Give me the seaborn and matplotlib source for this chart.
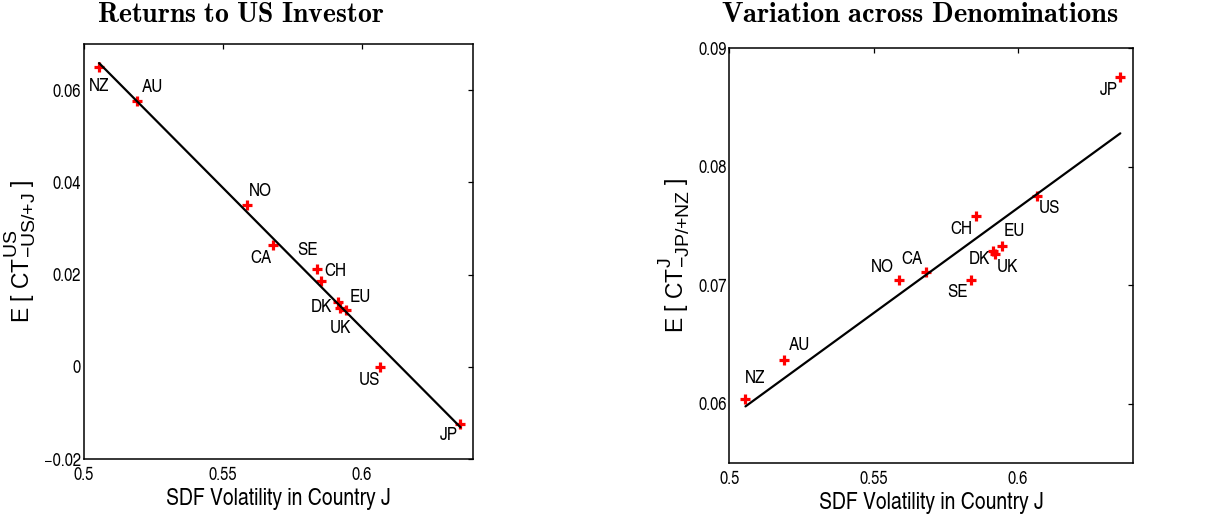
import matplotlib
matplotlib.use("Agg")
import matplotlib.pyplot as plt
import seaborn as sns
import numpy as np
import pandas as pd

try:
    import matplotlib._mathtext as _mt
    if hasattr(_mt, 'SHRINK_FACTOR'):
        _mt.SHRINK_FACTOR = 0.85  # larger super/subscripts, as in the reference
except Exception:
    pass

# ---------------- data ----------------
countries = ['NZ', 'AU', 'NO', 'CA', 'SE', 'CH', 'DK', 'UK', 'EU', 'US', 'JP']
sdf_vol = [0.5056, 0.5191, 0.5589, 0.5680, 0.5838, 0.5854, 0.5915, 0.5921, 0.5945, 0.6067, 0.6355]
ct_us = [0.0650, 0.0576, 0.0350, 0.0265, 0.0211, 0.0186, 0.0140, 0.0128, 0.0124, 0.0000, -0.0124]
ct_jp_nz = [0.0604, 0.0637, 0.0704, 0.0711, 0.0704, 0.0758, 0.0729, 0.0726, 0.0733, 0.0775, 0.0876]

x_ticks = [0.5, 0.55, 0.6]
x_ticklabels = ['0.5', '0.55', '0.6']
left_yticks = [-0.02, 0.0, 0.02, 0.04, 0.06]
left_yticklabels = ['\u22120.02', '0', '0.02', '0.04', '0.06']
right_yticks = [0.06, 0.07, 0.08, 0.09]
right_yticklabels = ['0.06', '0.07', '0.08', '0.09']

titles = [r'$\mathbf{Returns\ to\ US\ Investor}$', r'$\mathbf{Variation\ across\ Denominations}$']
xlabel = 'SDF Volatility in Country J'
ylabels = ['E [ $CT^{US}_{-US/{+}J}$ ]', 'E [ $CT^{J}_{-JP/{+}NZ}$ ]']

# label offsets in pixels (dx right, dy up) -- layout only
left_offsets = {'NZ': (0, -19), 'AU': (16, 14), 'NO': (13, 14), 'CA': (-12, -14),
                'SE': (-9, 19), 'CH': (14, 10), 'DK': (-17, -5), 'UK': (1, -21),
                'EU': (14, 12), 'US': (-11, -14), 'JP': (-12, -12)}
right_offsets = {'NZ': (10, 20), 'AU': (15, 14), 'NO': (-17, 13), 'CA': (-14, 13),
                 'SE': (-14, -12), 'CH': (-14, -13), 'DK': (-14, -9), 'UK': (12, -13),
                 'EU': (12, 15), 'US': (12, -12), 'JP': (-12, -14)}

# ---------------- style ----------------
sns.set_theme(style='white')
plt.rcParams['font.family'] = ['TeX Gyre Heros Cn', 'Liberation Sans', 'DejaVu Sans']
plt.rcParams['mathtext.default'] = 'regular'

fig = plt.figure(figsize=(12.25, 5.2), dpi=100)
ax1 = fig.add_axes([83.5 / 1225, 1 - 459 / 520, 389.5 / 1225, 415 / 520])
ax2 = fig.add_axes([729.3 / 1225, 1 - 462.7 / 520, 404 / 1225, 414.4 / 520])

df = pd.DataFrame({'country': countries, 'sdf': sdf_vol, 'ct_us': ct_us, 'ct_j': ct_jp_nz})

panels = [
    (ax1, 'ct_us', left_offsets, (-0.02, 0.07), left_yticks, left_yticklabels),
    (ax2, 'ct_j', right_offsets, (0.055, 0.09), right_yticks, right_yticklabels),
]

for i, (ax, ycol, offs, ylim, yt, ytl) in enumerate(panels):
    sns.scatterplot(data=df, x='sdf', y=ycol, ax=ax, marker='+', color='#ff0000',
                    s=50, linewidth=2.3, zorder=2, legend=False)
    sns.regplot(data=df, x='sdf', y=ycol, ax=ax, scatter=False, ci=None,
                line_kws=dict(color='black', linewidth=1.6, zorder=3))
    for c, xv, yv in zip(df['country'], df['sdf'], df[ycol]):
        dx, dy = offs[c]
        ax.annotate(c, (xv, yv), xytext=(dx, dy), textcoords='offset pixels',
                    ha='center', va='center', fontsize=13.5, color='black')
    ax.set_xlim(0.5, 0.64)
    ax.set_ylim(*ylim)
    ax.set_xticks(x_ticks)
    ax.set_xticklabels(x_ticklabels)
    ax.set_yticks(yt)
    ax.set_yticklabels(ytl)
    ax.tick_params(direction='in', top=True, right=True, length=3.6, width=0.9,
                   labelsize=13, colors='black')
    ax.tick_params(axis='x', pad=6)
    ax.tick_params(axis='y', pad=2)
    for sp in ax.spines.values():
        sp.set_color('black')
        sp.set_linewidth(1.1)
    ax.set_xlabel(xlabel, fontsize=17, labelpad=3, color='black')
    ax.set_ylabel(ylabels[i], fontsize=16.5, labelpad=4, color='black',
                  family=['Liberation Sans', 'DejaVu Sans'])

fig.text(241 / 1225, 1 - 22 / 520, titles[0], ha='center', va='baseline',
         fontsize=20, math_fontfamily='cm', color='black')
fig.text(920 / 1225, 1 - 22 / 520, titles[1], ha='center', va='baseline',
         fontsize=20.5, math_fontfamily='cm', color='black')

fig.savefig('out.png', dpi=100, facecolor='white')
